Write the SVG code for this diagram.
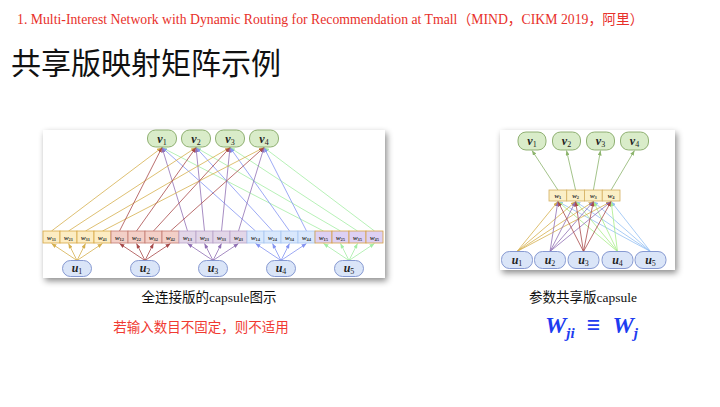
<svg xmlns="http://www.w3.org/2000/svg" width="720" height="407" viewBox="0 0 720 407">
<style>
.panel{fill:#fff;filter:url(#sh)}
.vn{fill:#d9ecc9;stroke:#86a866;stroke-width:0.9}
.un{fill:#dae5f8;stroke:#7b8fcc;stroke-width:0.9}
.lbl{font-family:"Liberation Serif",serif;font-weight:bold;font-style:italic;font-size:12px;fill:#222;text-anchor:middle}
.sub{font-size:8px;font-weight:normal;font-style:normal}
.cl{font-family:"Liberation Serif",serif;font-weight:bold;font-style:italic;font-size:7px;fill:#333;text-anchor:middle}
.cs{font-size:4.5px;font-style:normal}
.g1{fill:#fcecc2;stroke:#d8a844;stroke-width:0.8}
.g2{fill:#f3cfc7;stroke:#c47a70;stroke-width:0.8}
.g3{fill:#e2d6e8;stroke:#b8a2c8;stroke-width:0.8}
.g4{fill:#d9e8fc;stroke:#a9c6f0;stroke-width:0.8}
.g5{fill:#ddd0f4;stroke:#d8a044;stroke-width:0.8}
.gw{fill:#fbefc6;stroke:#d4b060;stroke-width:0.8}
line{stroke-width:0.8;fill:none}
.cy{stroke:#d6b04e;marker-end:url(#ay)}
.cr{stroke:#a84a4a;marker-end:url(#ar)}
.cp{stroke:#9070b4;marker-end:url(#ap)}
.cb{stroke:#8494f2;marker-end:url(#ab)}
.cg{stroke:#a4eea4;marker-end:url(#ag)}
.co{stroke:#8cb46c;marker-end:url(#ao)}
.clb{stroke:#94c0f4;marker-end:url(#alb)}
.clg{stroke:#a8ee88;marker-end:url(#alg)}
.cap{font-family:"Liberation Serif","Noto Sans CJK SC",sans-serif;font-size:13.5px;fill:#111;text-anchor:middle}
</style>
<defs>
<filter id="sh" x="-10%" y="-10%" width="125%" height="130%">
<feDropShadow dx="2" dy="3" stdDeviation="3" flood-color="#000" flood-opacity="0.45"/>
</filter>
<marker id="ay" markerUnits="userSpaceOnUse" markerWidth="5" markerHeight="4" refX="5" refY="2" orient="auto"><path d="M0,0L5,2L0,4z" fill="#d6b04e"/></marker>
<marker id="ar" markerUnits="userSpaceOnUse" markerWidth="5" markerHeight="4" refX="5" refY="2" orient="auto"><path d="M0,0L5,2L0,4z" fill="#a84a4a"/></marker>
<marker id="ap" markerUnits="userSpaceOnUse" markerWidth="5" markerHeight="4" refX="5" refY="2" orient="auto"><path d="M0,0L5,2L0,4z" fill="#9070b4"/></marker>
<marker id="ab" markerUnits="userSpaceOnUse" markerWidth="5" markerHeight="4" refX="5" refY="2" orient="auto"><path d="M0,0L5,2L0,4z" fill="#8494f2"/></marker>
<marker id="ag" markerUnits="userSpaceOnUse" markerWidth="5" markerHeight="4" refX="5" refY="2" orient="auto"><path d="M0,0L5,2L0,4z" fill="#a4eea4"/></marker>
<marker id="ao" markerUnits="userSpaceOnUse" markerWidth="5" markerHeight="4" refX="5" refY="2" orient="auto"><path d="M0,0L5,2L0,4z" fill="#8cb46c"/></marker>
<marker id="alb" markerUnits="userSpaceOnUse" markerWidth="5" markerHeight="4" refX="5" refY="2" orient="auto"><path d="M0,0L5,2L0,4z" fill="#94c0f4"/></marker>
<marker id="alg" markerUnits="userSpaceOnUse" markerWidth="5" markerHeight="4" refX="5" refY="2" orient="auto"><path d="M0,0L5,2L0,4z" fill="#a8ee88"/></marker>
</defs>
<rect width="720" height="407" fill="#fff"/>
<text x="17" y="24" font-family="Liberation Serif,Noto Sans CJK SC,serif" font-size="13.75" fill="#e8302a">1. Multi-Interest Network with Dynamic Routing for Recommendation at Tmall（MIND，CIKM 2019，阿里）</text>
<text x="11" y="74" font-family="Noto Sans CJK SC,sans-serif" font-size="30" fill="#111">共享版映射矩阵示例</text>

<rect class="panel" x="43" y="130" width="342" height="148"/>
<rect class="panel" x="500" y="130" width="175" height="140"/>

<g id="connectors">
<line class="cy" x1="77" y1="260.5" x2="51.5" y2="243.5"/><line class="cy" x1="77" y1="260.5" x2="68.5" y2="243.5"/><line class="cy" x1="77" y1="260.5" x2="85.5" y2="243.5"/><line class="cy" x1="77" y1="260.5" x2="102.5" y2="243.5"/>
<line class="cr" x1="145" y1="260.5" x2="119.5" y2="243.5"/><line class="cr" x1="145" y1="260.5" x2="136.5" y2="243.5"/><line class="cr" x1="145" y1="260.5" x2="153.5" y2="243.5"/><line class="cr" x1="145" y1="260.5" x2="170.5" y2="243.5"/>
<line class="cp" x1="213" y1="260.5" x2="187.5" y2="243.5"/><line class="cp" x1="213" y1="260.5" x2="204.5" y2="243.5"/><line class="cp" x1="213" y1="260.5" x2="221.5" y2="243.5"/><line class="cp" x1="213" y1="260.5" x2="238.5" y2="243.5"/>
<line class="cb" x1="281" y1="260.5" x2="255.5" y2="243.5"/><line class="cb" x1="281" y1="260.5" x2="272.5" y2="243.5"/><line class="cb" x1="281" y1="260.5" x2="289.5" y2="243.5"/><line class="cb" x1="281" y1="260.5" x2="306.5" y2="243.5"/>
<line class="cg" x1="349" y1="260.5" x2="323.5" y2="243.5"/><line class="cg" x1="349" y1="260.5" x2="340.5" y2="243.5"/><line class="cg" x1="349" y1="260.5" x2="357.5" y2="243.5"/><line class="cg" x1="349" y1="260.5" x2="374.5" y2="243.5"/>
<line class="cg" x1="323.5" y1="231" x2="162" y2="147.5"/><line class="cg" x1="340.5" y1="231" x2="196" y2="147.5"/><line class="cg" x1="357.5" y1="231" x2="230" y2="147.5"/><line class="cg" x1="374.5" y1="231" x2="264" y2="147.5"/>
<line class="cb" x1="255.5" y1="231" x2="162" y2="147.5"/><line class="cb" x1="272.5" y1="231" x2="196" y2="147.5"/><line class="cb" x1="289.5" y1="231" x2="230" y2="147.5"/><line class="cb" x1="306.5" y1="231" x2="264" y2="147.5"/>
<line class="cp" x1="187.5" y1="231" x2="162" y2="147.5"/><line class="cp" x1="204.5" y1="231" x2="196" y2="147.5"/><line class="cp" x1="221.5" y1="231" x2="230" y2="147.5"/><line class="cp" x1="238.5" y1="231" x2="264" y2="147.5"/>
<line class="cy" x1="51.5" y1="231" x2="162" y2="147.5"/><line class="cy" x1="68.5" y1="231" x2="196" y2="147.5"/><line class="cy" x1="85.5" y1="231" x2="230" y2="147.5"/><line class="cy" x1="102.5" y1="231" x2="264" y2="147.5"/>
<line class="cr" x1="119.5" y1="231" x2="162" y2="147.5"/><line class="cr" x1="136.5" y1="231" x2="196" y2="147.5"/><line class="cr" x1="153.5" y1="231" x2="230" y2="147.5"/><line class="cr" x1="170.5" y1="231" x2="264" y2="147.5"/>
<line class="clb" x1="650.5" y1="251.5" x2="557.9" y2="201.5"/><line class="clb" x1="650.5" y1="251.5" x2="575.6" y2="201.5"/><line class="clb" x1="650.5" y1="251.5" x2="593.4" y2="201.5"/><line class="clb" x1="650.5" y1="251.5" x2="611.1" y2="201.5"/>
<line class="clg" x1="617.5" y1="251.5" x2="557.9" y2="201.5"/><line class="clg" x1="617.5" y1="251.5" x2="575.6" y2="201.5"/><line class="clg" x1="617.5" y1="251.5" x2="593.4" y2="201.5"/><line class="clg" x1="617.5" y1="251.5" x2="611.1" y2="201.5"/>
<line class="cy" x1="517" y1="251.5" x2="557.9" y2="201.5"/><line class="cy" x1="517" y1="251.5" x2="575.6" y2="201.5"/><line class="cy" x1="517" y1="251.5" x2="593.4" y2="201.5"/><line class="cy" x1="517" y1="251.5" x2="611.1" y2="201.5"/>
<line class="cp" x1="550" y1="251.5" x2="557.9" y2="201.5"/><line class="cp" x1="550" y1="251.5" x2="575.6" y2="201.5"/><line class="cp" x1="550" y1="251.5" x2="593.4" y2="201.5"/><line class="cp" x1="550" y1="251.5" x2="611.1" y2="201.5"/>
<line class="cr" x1="583.5" y1="251.5" x2="557.9" y2="201.5"/><line class="cr" x1="583.5" y1="251.5" x2="575.6" y2="201.5"/><line class="cr" x1="583.5" y1="251.5" x2="593.4" y2="201.5"/><line class="cr" x1="583.5" y1="251.5" x2="611.1" y2="201.5"/>
<line class="co" x1="557.9" y1="190" x2="532" y2="150.5"/><line class="co" x1="575.6" y1="190" x2="566.5" y2="150.5"/><line class="co" x1="593.4" y1="190" x2="600.5" y2="150.5"/><line class="co" x1="611.1" y1="190" x2="634.5" y2="150.5"/>
</g>

<g id="Lv1"><rect class="vn" x="147.5" y="130" width="29" height="17" rx="8"/><text class="lbl" x="162" y="142.5">v<tspan class="sub" dy="2">1</tspan></text></g>
<g id="Lv2"><rect class="vn" x="181.5" y="130" width="29" height="17" rx="8"/><text class="lbl" x="196" y="142.5">v<tspan class="sub" dy="2">2</tspan></text></g>
<g id="Lv3"><rect class="vn" x="215.5" y="130" width="29" height="17" rx="8"/><text class="lbl" x="230" y="142.5">v<tspan class="sub" dy="2">3</tspan></text></g>
<g id="Lv4"><rect class="vn" x="249.5" y="130" width="29" height="17" rx="8"/><text class="lbl" x="264" y="142.5">v<tspan class="sub" dy="2">4</tspan></text></g>

<g id="Lw1">
<rect class="g1" x="43" y="231" width="17" height="12"/><rect class="g1" x="60" y="231" width="17" height="12"/><rect class="g1" x="77" y="231" width="17" height="12"/><rect class="g1" x="94" y="231" width="17" height="12"/>
<text class="cl" x="51.5" y="239.5">w<tspan class="cs" dy="1">11</tspan></text><text class="cl" x="68.5" y="239.5">w<tspan class="cs" dy="1">21</tspan></text><text class="cl" x="85.5" y="239.5">w<tspan class="cs" dy="1">31</tspan></text><text class="cl" x="102.5" y="239.5">w<tspan class="cs" dy="1">41</tspan></text>
</g>
<g id="Lw2">
<rect class="g2" x="111" y="231" width="17" height="12"/><rect class="g2" x="128" y="231" width="17" height="12"/><rect class="g2" x="145" y="231" width="17" height="12"/><rect class="g2" x="162" y="231" width="17" height="12"/>
<text class="cl" x="119.5" y="239.5">w<tspan class="cs" dy="1">12</tspan></text><text class="cl" x="136.5" y="239.5">w<tspan class="cs" dy="1">22</tspan></text><text class="cl" x="153.5" y="239.5">w<tspan class="cs" dy="1">32</tspan></text><text class="cl" x="170.5" y="239.5">w<tspan class="cs" dy="1">42</tspan></text>
</g>
<g id="Lw3">
<rect class="g3" x="179" y="231" width="17" height="12"/><rect class="g3" x="196" y="231" width="17" height="12"/><rect class="g3" x="213" y="231" width="17" height="12"/><rect class="g3" x="230" y="231" width="17" height="12"/>
<text class="cl" x="187.5" y="239.5">w<tspan class="cs" dy="1">13</tspan></text><text class="cl" x="204.5" y="239.5">w<tspan class="cs" dy="1">23</tspan></text><text class="cl" x="221.5" y="239.5">w<tspan class="cs" dy="1">33</tspan></text><text class="cl" x="238.5" y="239.5">w<tspan class="cs" dy="1">43</tspan></text>
</g>
<g id="Lw4">
<rect class="g4" x="247" y="231" width="17" height="12"/><rect class="g4" x="264" y="231" width="17" height="12"/><rect class="g4" x="281" y="231" width="17" height="12"/><rect class="g4" x="298" y="231" width="17" height="12"/>
<text class="cl" x="255.5" y="239.5">w<tspan class="cs" dy="1">14</tspan></text><text class="cl" x="272.5" y="239.5">w<tspan class="cs" dy="1">24</tspan></text><text class="cl" x="289.5" y="239.5">w<tspan class="cs" dy="1">34</tspan></text><text class="cl" x="306.5" y="239.5">w<tspan class="cs" dy="1">44</tspan></text>
</g>
<g id="Lw5">
<rect class="g5" x="315" y="231" width="17" height="12"/><rect class="g5" x="332" y="231" width="17" height="12"/><rect class="g5" x="349" y="231" width="17" height="12"/><rect class="g5" x="366" y="231" width="17" height="12"/>
<text class="cl" x="323.5" y="239.5">w<tspan class="cs" dy="1">15</tspan></text><text class="cl" x="340.5" y="239.5">w<tspan class="cs" dy="1">25</tspan></text><text class="cl" x="357.5" y="239.5">w<tspan class="cs" dy="1">35</tspan></text><text class="cl" x="374.5" y="239.5">w<tspan class="cs" dy="1">45</tspan></text>
</g>

<g id="Lu1"><rect class="un" x="62.5" y="260.5" width="29" height="16" rx="8"/><text class="lbl" x="77" y="272">u<tspan class="sub" dy="2">1</tspan></text></g>
<g id="Lu2"><rect class="un" x="130.5" y="260.5" width="29" height="16" rx="8"/><text class="lbl" x="145" y="272">u<tspan class="sub" dy="2">2</tspan></text></g>
<g id="Lu3"><rect class="un" x="198.5" y="260.5" width="29" height="16" rx="8"/><text class="lbl" x="213" y="272">u<tspan class="sub" dy="2">3</tspan></text></g>
<g id="Lu4"><rect class="un" x="266.5" y="260.5" width="29" height="16" rx="8"/><text class="lbl" x="281" y="272">u<tspan class="sub" dy="2">4</tspan></text></g>
<g id="Lu5"><rect class="un" x="334.5" y="260.5" width="29" height="16" rx="8"/><text class="lbl" x="349" y="272">u<tspan class="sub" dy="2">5</tspan></text></g>

<g id="Rv1"><rect class="vn" x="518" y="132" width="28" height="18" rx="8"/><text class="lbl" x="532" y="145">v<tspan class="sub" dy="2">1</tspan></text></g>
<g id="Rv2"><rect class="vn" x="552.5" y="132" width="28" height="18" rx="8"/><text class="lbl" x="566.5" y="145">v<tspan class="sub" dy="2">2</tspan></text></g>
<g id="Rv3"><rect class="vn" x="586.5" y="132" width="28" height="18" rx="8"/><text class="lbl" x="600.5" y="145">v<tspan class="sub" dy="2">3</tspan></text></g>
<g id="Rv4"><rect class="vn" x="620.5" y="132" width="28" height="18" rx="8"/><text class="lbl" x="634.5" y="145">v<tspan class="sub" dy="2">4</tspan></text></g>

<g id="RW">
<rect class="gw" x="549" y="190" width="17.75" height="11"/><rect class="gw" x="566.75" y="190" width="17.75" height="11"/><rect class="gw" x="584.5" y="190" width="17.75" height="11"/><rect class="gw" x="602.25" y="190" width="17.75" height="11"/>
<text class="cl" x="557.9" y="197.5">w<tspan class="cs" dy="1">1</tspan></text><text class="cl" x="575.6" y="197.5">w<tspan class="cs" dy="1">2</tspan></text><text class="cl" x="593.4" y="197.5">w<tspan class="cs" dy="1">3</tspan></text><text class="cl" x="611.1" y="197.5">w<tspan class="cs" dy="1">4</tspan></text>
</g>

<g id="Ru1"><rect class="un" x="501.5" y="251.5" width="31" height="17" rx="8"/><text class="lbl" x="517" y="263.5">u<tspan class="sub" dy="2">1</tspan></text></g>
<g id="Ru2"><rect class="un" x="534.5" y="251.5" width="31" height="17" rx="8"/><text class="lbl" x="550" y="263.5">u<tspan class="sub" dy="2">2</tspan></text></g>
<g id="Ru3"><rect class="un" x="568" y="251.5" width="31" height="17" rx="8"/><text class="lbl" x="583.5" y="263.5">u<tspan class="sub" dy="2">3</tspan></text></g>
<g id="Ru4"><rect class="un" x="602" y="251.5" width="31" height="17" rx="8"/><text class="lbl" x="617.5" y="263.5">u<tspan class="sub" dy="2">4</tspan></text></g>
<g id="Ru5"><rect class="un" x="635" y="251.5" width="31" height="17" rx="8"/><text class="lbl" x="650.5" y="263.5">u<tspan class="sub" dy="2">5</tspan></text></g>

<text class="cap" x="209" y="302">全连接版的capsule图示</text>
<text x="201" y="332" font-family="Noto Sans CJK SC,sans-serif" font-size="13.5" fill="#f03a32" text-anchor="middle">若输入数目不固定，则不适用</text>
<text class="cap" x="583" y="302">参数共享版capsule</text>
<text x="545" y="333" font-family="Liberation Serif,serif" font-weight="bold" font-style="italic" font-size="24" fill="#1d3cf0">W<tspan font-size="15" dy="5">ji</tspan><tspan dy="-5" font-style="normal" font-size="24">&#160;&#160;≡&#160;&#160;</tspan>W<tspan font-size="15" dy="5">j</tspan></text>
</svg>
